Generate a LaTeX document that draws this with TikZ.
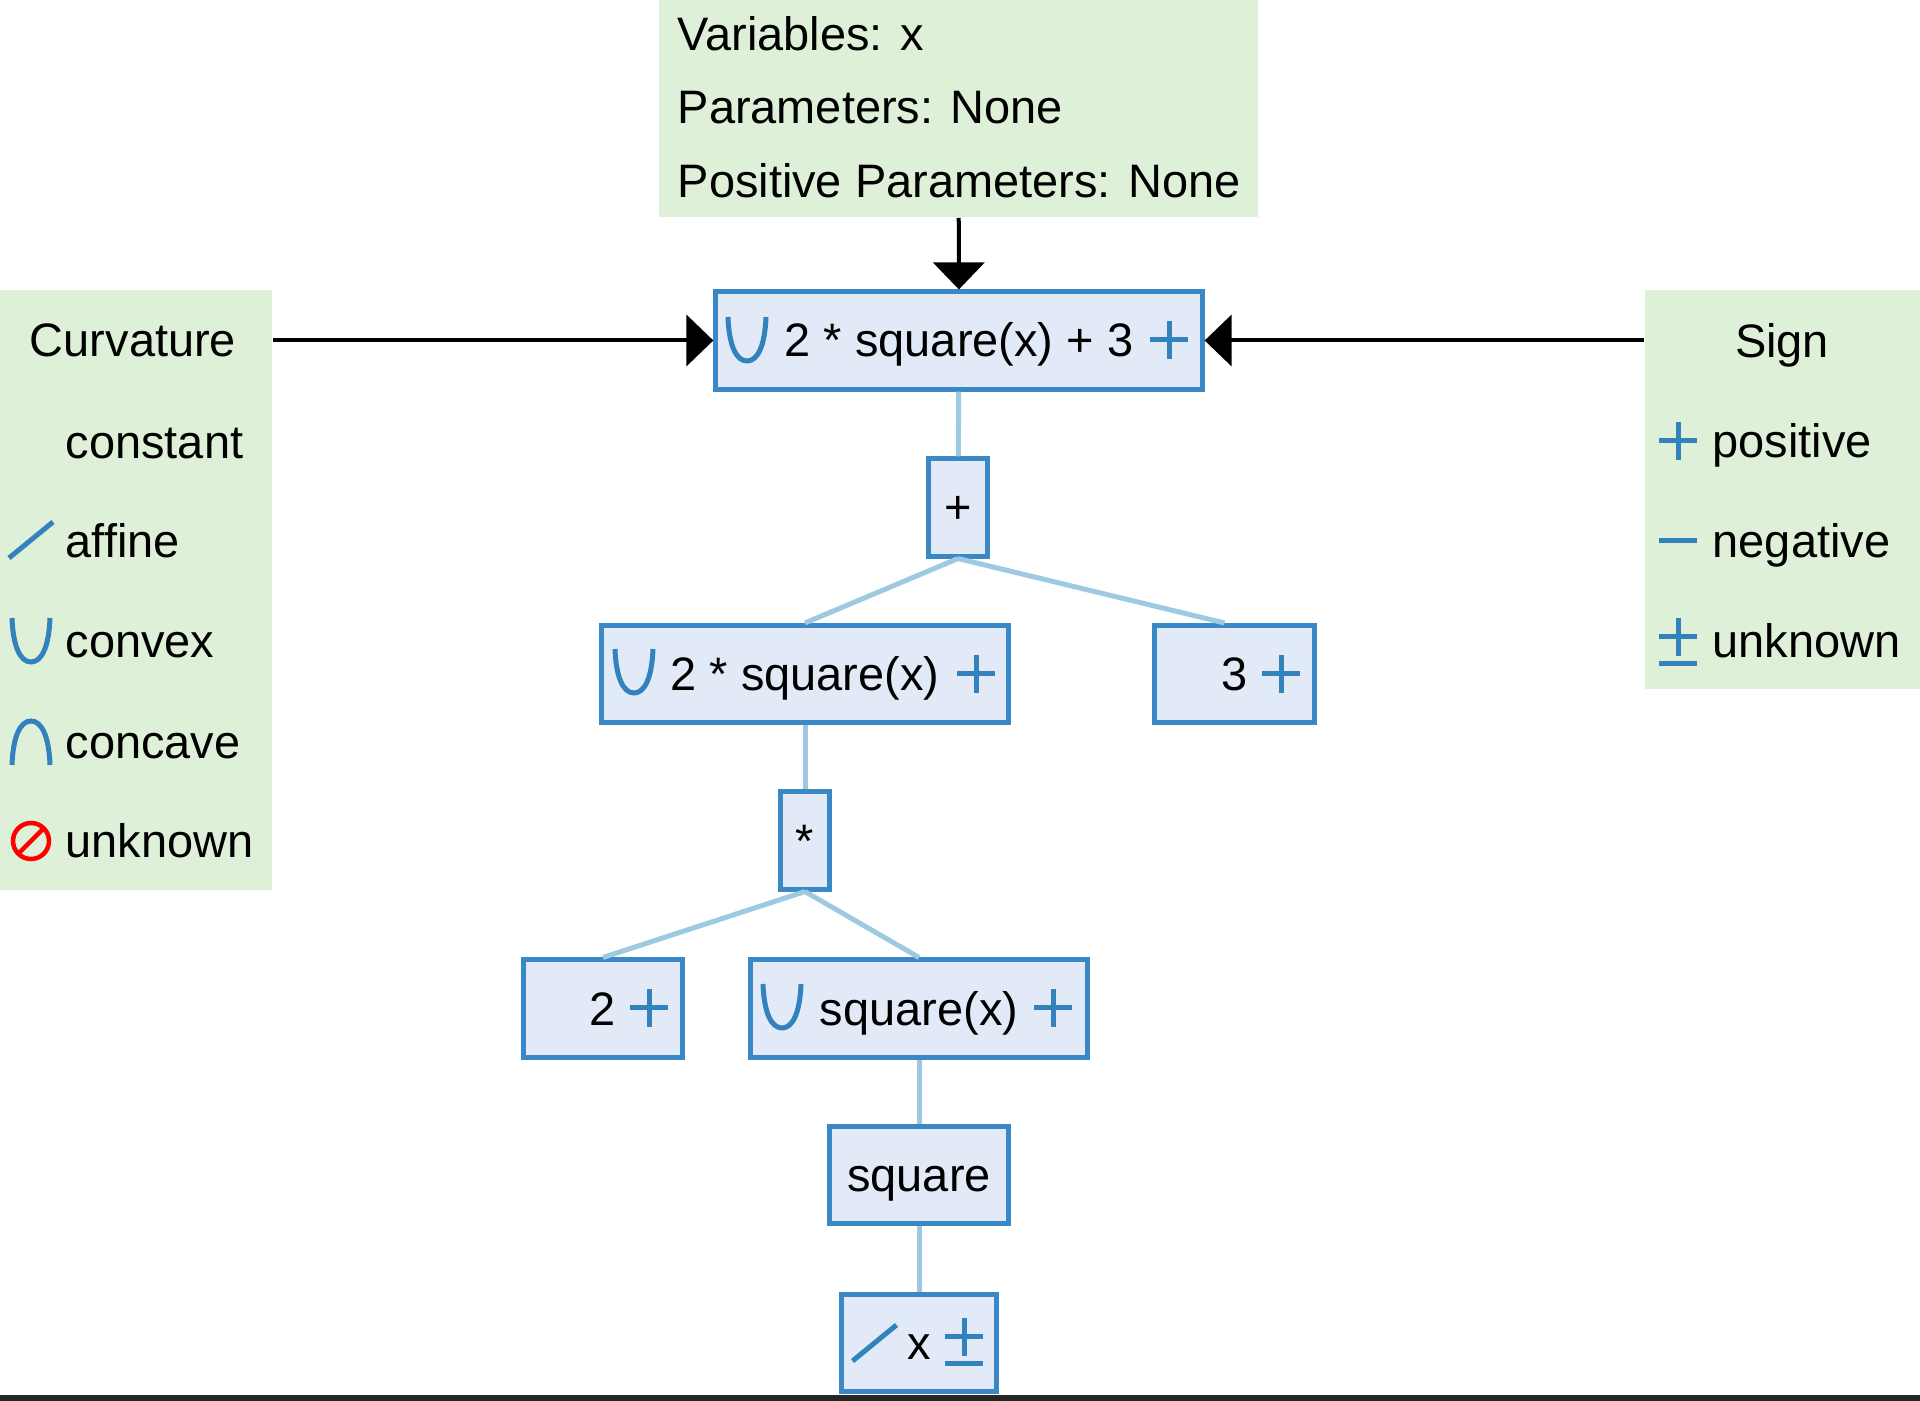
\documentclass[tikz,border=0pt]{standalone}
\usepackage{fontspec}
\setmainfont{Liberation Sans}
\usetikzlibrary{positioning}
\usetikzlibrary{arrows.meta}
\definecolor{legendgreen}{HTML}{DFF0D8}
\definecolor{boxfill}{HTML}{E1EAF6}
\definecolor{boxblue}{HTML}{3B88C6}
\definecolor{linkblue}{HTML}{9ECAE1}
\definecolor{iconblue}{HTML}{3182BD}
\tikzset{
  label font/.style={font=\fontsize{13.35}{16}\selectfont},
  legendbox/.style={fill=legendgreen, inner sep=0pt},
  legendtext/.style={label font, inner sep=0pt, anchor=west, text height=0.43cm, text depth=0.1cm},
  exprbox/.style={draw=boxblue, fill=boxfill, line width=0.05cm, inner sep=0pt,
    minimum height=0.97cm, label font, text height=0.43cm, text depth=0.1cm},
  flow/.style={line width=0.04cm, -{Triangle[length=0.27cm,width=0.51cm]}},
  link/.style={draw=linkblue, line width=0.05cm},
  icon/.style={draw=iconblue, line width=0.05cm},
  convexicon/.pic={\draw[icon] (-19,-22) .. controls (-18,6) and (-11,22) .. (0,22)
    .. controls (11,22) and (18,6) .. (19,-22);},
  concaveicon/.pic={\draw[icon] (-19,22) .. controls (-18,-6) and (-11,-22) .. (0,-22)
    .. controls (11,-22) and (18,-6) .. (19,22);},
  affineicon/.pic={\draw[icon] (-22,18) -- (22,-18);},
  plusicon/.pic={\draw[icon] (-19,0) -- (19,0) (0,-19) -- (0,19);},
  minusicon/.pic={\draw[icon] (-19,0) -- (19,0);},
  plusminusicon/.pic={\draw[icon] (-19,0) -- (19,0) (0,-19) -- (0,19) (-19,27) -- (19,27);},
  unknownicon/.pic={\draw[draw=red, line width=0.045cm] (0,0) circle (18) (-13,13) -- (13,-13);},
}

\begin{document}
\begin{tikzpicture}[x=0.01cm,y=-0.01cm]
\useasboundingbox (0,0) rectangle (1920,1401);

% Legends
\node[legendbox, minimum width=5.99cm, minimum height=2.17cm] (info) at (958.5,108.5) {};
\node[legendbox, minimum width=2.72cm, minimum height=6cm] (curvature) at (136,590) {};
\node[legendbox, minimum width=2.75cm, minimum height=3.99cm] (sign) at (1782.5,489.5) {};

\node[legendtext] (variables) at (677,34) {Variables: x};
\node[legendtext] (parameters) at (677,107) {Parameters: None};
\node[legendtext] (positive) at (677,181) {Positive Parameters: None};

\node[legendtext, anchor=center] (curvaturetitle) at (133,340) {Curvature};
\foreach \y/\name in {442/constant, 541/affine, 641/convex, 742/concave, 841/unknown}{
  \node[legendtext] (curv\name) at (65,\y) {\name};
}
\pic at (31,540) {affineicon};
\pic at (31,640) {convexicon};
\pic at (31,743) {concaveicon};
\pic at (31,841) {unknownicon};

\node[legendtext, anchor=center] (signtitle) at (1782,341) {Sign};
\foreach \y/\name in {441/positive, 541/negative, 641/unknown}{
  \node[legendtext] (sign\name) at (1712,\y) {\name};
}
\pic at (1678,441) {plusicon};
\pic at (1678,541) {minusicon};
\pic at (1678,637) {plusminusicon};

% Expression tree
\node[exprbox, minimum width=4.86cm] (root) at (959,340.5) {2 * square(x) + 3};
\node[exprbox, minimum width=0.58cm] (addop) at (958,507.5) {+};
\node[exprbox, minimum width=4.06cm] (product) at (805,674) {2 * square(x)};
\node[exprbox, minimum width=1.59cm] (three) at (1234.5,674) {3};
\node[exprbox, minimum width=0.48cm] (mulop) at (805,840.5) {*};
\node[exprbox, minimum width=1.58cm] (two) at (603,1008.5) {2};
\node[exprbox, minimum width=3.36cm] (squarex) at (919,1008.5) {square(x)};
\node[exprbox, minimum width=1.78cm] (squareop) at (919,1175) {square};
\node[exprbox, minimum width=1.54cm] (leaf) at (919,1343) {x};

% Icons in the boxes
\pic at (747,339) {convexicon};
\pic at (1169,340) {plusicon};
\pic at (634,671) {convexicon};
\pic at (976,674) {plusicon};
\pic at (1281,674) {plusicon};
\pic at (649,1008) {plusicon};
\pic at (782,1006) {convexicon};
\pic at (1053,1008) {plusicon};
\pic at (874.5,1343) {affineicon};
\pic at (964,1337) {plusminusicon};

% Links
\draw[link] (root) -- (addop);
\draw[link] (addop.south) -- (product.north);
\draw[link] (addop.south) -- ([xshift=-0.1cm]three.north);
\draw[link] (product) -- (mulop);
\draw[link] (mulop.south) -- (two.north);
\draw[link] (mulop.south) -- (squarex.north);
\draw[link] (squarex) -- (squareop);
\draw[link] (squareop) -- (leaf);

% Black arrows
\draw[flow] (info) -- (root);
\draw[flow] (curvature.east |- root.west) -- (root.west);
\draw[flow] (sign.west |- root.east) -- (root.east);

% Strip at the bottom
\fill[black!85] (0,1395) rectangle (1920,1401);
\end{tikzpicture}
\end{document}
